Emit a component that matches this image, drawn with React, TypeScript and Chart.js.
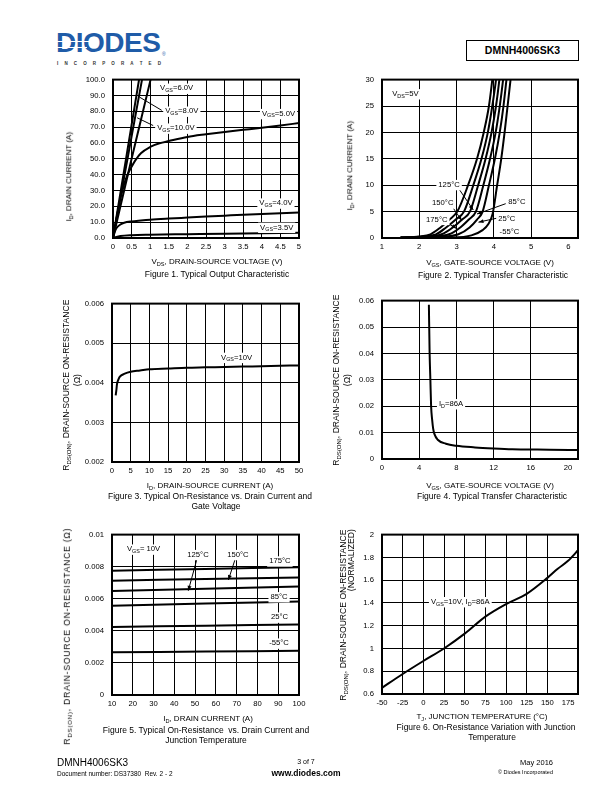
import React, { useEffect, useRef } from 'react';
import { Chart, registerables } from 'chart.js';

Chart.register(...registerables);

const FONT = '"Liberation Sans", Arial, Helvetica, sans-serif';
Chart.defaults.font.family = FONT;
Chart.defaults.color = '#000';

type Pt = [number, number];

// ---------------- Figure 1: Typical Output Characteristic ----------------
const F1_X_TICKS = [0, 0.5, 1, 1.5, 2, 2.5, 3, 3.5, 4, 4.5, 5];
const F1_Y_TICKS = [0, 10, 20, 30, 40, 50, 60, 70, 80, 90, 100];
const F1_VGS_10V: Pt[] = [[0, 0], [0.35, 50], [0.7, 100], [0.735, 105]];
const F1_VGS_8V: Pt[] = [[0, 0], [0.39, 50], [0.78, 100], [0.82, 105]];
const F1_VGS_6V: Pt[] = [[0, 0], [0.5, 50], [1.01, 100], [1.06, 105]];
const F1_VGS_5V: Pt[] = [[0, 0], [0.1, 13], [0.2, 25], [0.3, 34], [0.4, 40.5], [0.5, 45], [0.6, 49], [0.75, 53.5], [1.0, 57.5], [1.25, 59.8], [1.5, 61.2], [2, 63.8], [2.5, 65.5], [3, 67], [3.5, 68.3], [4, 69.6], [4.5, 71], [5, 72.6]];
const F1_VGS_4V: Pt[] = [[0, 0], [0.05, 4], [0.1, 6.5], [0.2, 8.5], [0.3, 9.6], [0.5, 10.5], [0.75, 11.1], [1, 11.6], [1.5, 12.3], [2, 12.9], [2.5, 13.5], [3, 14.1], [3.5, 14.7], [4, 15.2], [4.5, 15.7], [5, 16.1]];
const F1_VGS_3V5: Pt[] = [[0, 0], [0.2, 1.2], [0.5, 1.8], [1, 2.1], [2, 2.4], [3, 2.7], [4, 3.0], [5, 3.3]];

// ---------------- Figure 2: Typical Transfer Characteristic ----------------
const F2_X_TICKS = [1, 2, 3, 4, 5, 6];
const F2_Y_TICKS = [0, 5, 10, 15, 20, 25, 30];
const F2_T175: Pt[] = [[1.5, 0.1], [2.0, 0.3], [2.3, 0.7], [2.57, 2.0], [2.8, 3.4], [3.02, 5], [3.31, 10], [3.55, 15], [3.73, 20], [3.87, 25], [3.96, 30], [3.99, 32]];
const F2_T150: Pt[] = [[1.5, 0.1], [2.1, 0.3], [2.45, 0.7], [2.72, 2.0], [2.98, 3.5], [3.2, 5], [3.45, 10], [3.67, 15], [3.84, 20], [3.96, 25], [4.06, 30], [4.09, 32]];
const F2_T125: Pt[] = [[1.5, 0.1], [2.2, 0.3], [2.6, 0.7], [2.9, 2.0], [3.15, 3.5], [3.36, 5], [3.58, 10], [3.78, 15], [3.94, 20], [4.06, 25], [4.15, 30], [4.18, 32]];
const F2_T85: Pt[] = [[1.5, 0.05], [2.35, 0.25], [2.8, 0.7], [3.1, 2.0], [3.33, 3.5], [3.52, 5], [3.72, 10], [3.9, 15], [4.05, 20], [4.16, 25], [4.25, 30], [4.28, 32]];
const F2_T25: Pt[] = [[1.5, 0.03], [2.6, 0.2], [3.05, 0.7], [3.35, 2.0], [3.55, 3.5], [3.7, 5], [3.87, 10], [4.03, 15], [4.16, 20], [4.26, 25], [4.34, 30], [4.37, 32]];
const F2_TM55: Pt[] = [[1.5, 0.02], [2.9, 0.1], [3.4, 0.5], [3.7, 1.5], [3.85, 2.6], [3.97, 4.6], [4.09, 10], [4.2, 15], [4.29, 20], [4.37, 25], [4.45, 30], [4.48, 32]];

// ---------------- Figure 3: On-Resistance vs Drain Current ----------------
const F3_X_TICKS = [0, 5, 10, 15, 20, 25, 30, 35, 40, 45, 50];
const F3_Y_TICKS = [0.002, 0.003, 0.004, 0.005, 0.006];
const F3_VGS_10V: Pt[] = [[0.98, 0.00368], [1.15, 0.0038], [1.34, 0.00397], [1.7, 0.00408], [2.05, 0.00415], [3.4, 0.00423], [5, 0.00428], [7.5, 0.00431], [10, 0.00434], [15, 0.00436], [20, 0.00438], [25, 0.00439], [30, 0.0044], [35, 0.00441], [40, 0.00442], [45, 0.00443], [50, 0.00444]];

// ---------------- Figure 4: On-Resistance vs Gate-Source Voltage ----------------
const F4_X_TICKS = [0, 4, 8, 12, 16, 20];
const F4_Y_TICKS = [0, 0.01, 0.02, 0.03, 0.04, 0.05, 0.06];
const F4_ID_86A: Pt[] = [[5.04, 0.0584], [5.12, 0.04], [5.2, 0.03], [5.28, 0.02], [5.39, 0.0149], [5.5, 0.0115], [5.63, 0.0095], [5.99, 0.0073], [6.87, 0.0058], [8, 0.005], [10, 0.0044], [12, 0.004], [14, 0.0037], [16, 0.0036], [18, 0.0035], [21.2, 0.0034]];

// ---------------- Figure 5: On-Resistance vs Drain Current and Temperature ----------------
const F5_X_TICKS = [10, 20, 30, 40, 50, 60, 70, 80, 90, 100];
const F5_Y_TICKS = [0, 0.002, 0.004, 0.006, 0.008, 0.01];
const F5_T175: Pt[] = [[10, 0.00775], [55, 0.00786], [100, 0.00797]];
const F5_T150: Pt[] = [[10, 0.00713], [55, 0.00723], [100, 0.00733]];
const F5_T125: Pt[] = [[10, 0.00648], [55, 0.00662], [100, 0.00677]];
const F5_T85: Pt[] = [[10, 0.00556], [55, 0.0057], [100, 0.00583]];
const F5_T25: Pt[] = [[10, 0.00424], [55, 0.00432], [100, 0.0044]];
const F5_TM55: Pt[] = [[10, 0.00266], [55, 0.00271], [100, 0.00276]];

// ---------------- Figure 6: On-Resistance vs Junction Temperature ----------------
const F6_X_TICKS = [-50, -25, 0, 25, 50, 75, 100, 125, 150, 175];
const F6_Y_TICKS = [0.6, 0.8, 1, 1.2, 1.4, 1.6, 1.8, 2];
const F6_NORM: Pt[] = [[-50, 0.654], [-25, 0.776], [0, 0.89], [25, 1.0], [50, 1.13], [75, 1.28], [100, 1.39], [125, 1.48], [150, 1.62], [162.5, 1.7], [175, 1.77], [188, 1.87]];

// ---------------- drawing helpers ----------------
type Seg = { t: string; sub?: boolean };
function parseRich(s: string): Seg[] {
  const out: Seg[] = [];
  const re = /_\{([^}]*)\}/g;
  let last = 0;
  let m: RegExpExecArray | null;
  while ((m = re.exec(s))) {
    if (m.index > last) out.push({ t: s.slice(last, m.index) });
    out.push({ t: m[1], sub: true });
    last = re.lastIndex;
  }
  if (last < s.length) out.push({ t: s.slice(last) });
  return out;
}

type Label = { x: number; y: number; text: string };
type Arrow = { x1: number; y1: number; x2: number; y2: number; head?: boolean };

const LABEL_SIZE = 7.7;
const TICK_SIZE = 7.7;

function drawRich(ctx: CanvasRenderingContext2D, text: string, cx: number, cy: number, size: number) {
  const segs = parseRich(text);
  const fontFor = (s: Seg) => `${s.sub ? size * 0.7 : size}px ${FONT}`;
  const widths = segs.map((s) => { ctx.font = fontFor(s); return ctx.measureText(s.t).width; });
  const total = widths.reduce((a, b) => a + b, 0);
  let x = cx - total / 2;
  ctx.fillStyle = '#fff';
  ctx.fillRect(x - 2, cy - size * 0.62, total + 4, size * 1.35);
  ctx.fillStyle = '#000';
  ctx.textBaseline = 'middle';
  ctx.textAlign = 'left';
  segs.forEach((s, i) => {
    ctx.font = fontFor(s);
    ctx.fillText(s.t, x, cy + (s.sub ? size * 0.3 : 0));
    x += widths[i];
  });
}

function overlayPlugin(labels: Label[], arrows: Arrow[]) {
  return {
    id: 'overlay',
    afterDatasetsDraw(chart: any) {
      const { ctx, chartArea, scales } = chart;
      const xs = scales.x;
      const ys = scales.y;
      ctx.save();
      for (const a of arrows) {
        const x1 = xs.getPixelForValue(a.x1), y1 = ys.getPixelForValue(a.y1);
        const x2 = xs.getPixelForValue(a.x2), y2 = ys.getPixelForValue(a.y2);
        ctx.strokeStyle = '#000';
        ctx.lineWidth = 1;
        ctx.beginPath();
        ctx.moveTo(x1, y1);
        ctx.lineTo(x2, y2);
        ctx.stroke();
        if (a.head) {
          const ang = Math.atan2(y2 - y1, x2 - x1);
          const L = 5, W = 2;
          ctx.beginPath();
          ctx.moveTo(x2, y2);
          ctx.lineTo(x2 - L * Math.cos(ang) + W * Math.sin(ang), y2 - L * Math.sin(ang) - W * Math.cos(ang));
          ctx.lineTo(x2 - L * Math.cos(ang) - W * Math.sin(ang), y2 - L * Math.sin(ang) + W * Math.cos(ang));
          ctx.closePath();
          ctx.fillStyle = '#000';
          ctx.fill();
        }
      }
      for (const l of labels) {
        drawRich(ctx, l.text, xs.getPixelForValue(l.x), ys.getPixelForValue(l.y), LABEL_SIZE);
      }
      ctx.lineWidth = 2;
      ctx.strokeStyle = '#000';
      ctx.strokeRect(chartArea.left, chartArea.top, chartArea.right - chartArea.left, chartArea.bottom - chartArea.top);
      ctx.restore();
    },
  };
}

type PlotSpec = {
  area: { left: number; top: number; right: number; bottom: number };
  xMin: number; xMax: number; yMin: number; yMax: number;
  xTicks: number[]; yTicks: number[];
  xFmt: (v: number) => string; yFmt: (v: number) => string;
  hideX?: number[];
  series: Pt[][];
  labels: Label[];
  arrows: Arrow[];
};

const YW = 50, PT = 8, PR = 14, XH = 20;

function makeConfig(s: PlotSpec): any {
  const hide = (vals: number[]) => (c: any) => (c.tick && vals.includes(c.tick.value) ? 'rgba(0,0,0,0)' : '#000');
  return {
    type: 'scatter',
    data: {
      datasets: s.series.map((pts) => ({
        data: pts.map(([x, y]) => ({ x, y })),
        showLine: true,
        borderColor: '#000',
        backgroundColor: '#000',
        borderWidth: 2,
        pointRadius: 0,
        pointHoverRadius: 0,
        cubicInterpolationMode: 'monotone',
        fill: false,
      })),
    },
    options: {
      animation: false,
      responsive: false,
      maintainAspectRatio: false,
      devicePixelRatio: 1,
      events: [],
      layout: { padding: { top: PT, right: PR, left: 0, bottom: 0 } },
      plugins: { legend: { display: false }, tooltip: { enabled: false }, title: { display: false } },
      scales: {
        x: {
          type: 'linear', position: 'bottom', min: s.xMin, max: s.xMax,
          afterBuildTicks: (a: any) => { a.ticks = s.xTicks.map((v) => ({ value: v })); },
          afterFit: (a: any) => { a.height = XH; },
          grid: { color: hide(s.hideX || []), lineWidth: 1, drawTicks: false },
          border: { display: false },
          ticks: { autoSkip: false, maxRotation: 0, minRotation: 0, padding: 4, color: '#000', font: { size: TICK_SIZE, family: FONT }, callback: (v: any) => s.xFmt(Number(v)) },
        },
        y: {
          type: 'linear', position: 'left', min: s.yMin, max: s.yMax,
          afterBuildTicks: (a: any) => { a.ticks = s.yTicks.map((v) => ({ value: v })); },
          afterFit: (a: any) => { a.width = YW; },
          grid: { color: '#000', lineWidth: 1, drawTicks: false },
          border: { display: false },
          ticks: { autoSkip: false, padding: 8, color: '#000', font: { size: TICK_SIZE, family: FONT }, callback: (v: any) => s.yFmt(Number(v)) },
        },
      },
    },
    plugins: [overlayPlugin(s.labels, s.arrows)],
  };
}

function PlotCanvas({ spec }: { spec: PlotSpec }) {
  const ref = useRef<HTMLCanvasElement | null>(null);
  const left = spec.area.left - YW;
  const top = spec.area.top - PT;
  const width = spec.area.right - spec.area.left + YW + PR;
  const height = spec.area.bottom - spec.area.top + PT + XH;
  useEffect(() => {
    const c = ref.current;
    if (!c) return;
    const chart = new Chart(c, makeConfig(spec));
    return () => chart.destroy();
  }, [spec]);
  return <canvas ref={ref} width={width} height={height} style={{ position: 'absolute', left, top, width, height }} />;
}

function Rich({ text }: { text: string }) {
  return (
    <>
      {parseRich(text).map((s, i) =>
        s.sub ? (
          <span key={i} style={{ fontSize: '0.7em', position: 'relative', top: '0.3em' }}>{s.t}</span>
        ) : (
          <span key={i}>{s.t}</span>
        )
      )}
    </>
  );
}

function Txt({ x, y, text, size, bold, align = 'center', ls }: { x: number; y: number; text: string; size: number; bold?: boolean; align?: 'center' | 'left' | 'right'; ls?: number }) {
  const lh = size * 1.2;
  const W = 500;
  const left = align === 'center' ? x - W / 2 : align === 'left' ? x : x - W;
  return (
    <div style={{ position: 'absolute', left, top: y - lh / 2, width: W, height: lh, lineHeight: `${lh}px`, fontSize: size, fontWeight: bold ? 700 : 400, textAlign: align, whiteSpace: 'pre', letterSpacing: ls ? `${ls}px` : undefined }}>
      <Rich text={text} />
    </div>
  );
}

function VTxt({ x, y, text, size, ls }: { x: number; y: number; text: string; size: number; ls?: number }) {
  const lh = size * 1.2;
  const W = 300;
  return (
    <div style={{ position: 'absolute', left: x - W / 2, top: y - lh / 2, width: W, height: lh, lineHeight: `${lh}px`, fontSize: size, textAlign: 'center', whiteSpace: 'pre', transform: 'rotate(-90deg)', transformOrigin: '50% 50%', letterSpacing: ls ? `${ls}px` : undefined }}>
      <Rich text={text} />
    </div>
  );
}

const str = (v: number) => String(v);

const SPEC1: PlotSpec = {
  area: { left: 113, top: 75, right: 299, bottom: 238 },
  xMin: 0, xMax: 5, yMin: 0, yMax: 100,
  xTicks: F1_X_TICKS, yTicks: F1_Y_TICKS,
  xFmt: str, yFmt: (v) => v.toFixed(1),
  series: [F1_VGS_10V, F1_VGS_8V, F1_VGS_6V, F1_VGS_5V, F1_VGS_4V, F1_VGS_3V5],
  labels: [
    { x: 1.71, y: 94.5, text: 'V_{GS}=6.0V' },
    { x: 1.85, y: 80, text: 'V_{GS}=8.0V' },
    { x: 1.69, y: 69.3, text: 'V_{GS}=10.0V' },
    { x: 4.45, y: 78.5, text: 'V_{GS}=5.0V' },
    { x: 4.38, y: 22, text: 'V_{GS}=4.0V' },
    { x: 4.4, y: 6.7, text: 'V_{GS}=3.5V' },
  ],
  arrows: [
    { x1: 1.31, y1: 80.6, x2: 0.71, y2: 89 },
    { x1: 1.08, y1: 71, x2: 0.65, y2: 75.9 },
  ],
};

const SPEC2: PlotSpec = {
  area: { left: 382, top: 75, right: 578, bottom: 238 },
  xMin: 1, xMax: 6.26, yMin: 0, yMax: 30,
  xTicks: F2_X_TICKS, yTicks: F2_Y_TICKS, hideX: [6],
  xFmt: str, yFmt: str,
  series: [F2_T175, F2_T150, F2_T125, F2_T85, F2_T25, F2_TM55],
  labels: [
    { x: 1.63, y: 27.3, text: 'V_{DS}=5V' },
    { x: 2.8, y: 10.1, text: '125°C' },
    { x: 2.63, y: 6.6, text: '150°C' },
    { x: 2.47, y: 3.5, text: '175°C' },
    { x: 4.62, y: 6.8, text: '85°C' },
    { x: 4.35, y: 3.7, text: '25°C' },
    { x: 4.42, y: 1.1, text: '-55°C' },
  ],
  arrows: [
    { x1: 3.05, y1: 9.45, x2: 3.45, y2: 5.3, head: true },
    { x1: 2.87, y1: 6.1, x2: 3.14, y2: 3.3, head: true },
    { x1: 2.72, y1: 3.0, x2: 3.0, y2: 1.8, head: true },
    { x1: 4.32, y1: 6.5, x2: 3.55, y2: 4.55, head: true },
    { x1: 4.08, y1: 3.75, x2: 3.59, y2: 3.0, head: true },
  ],
};

const SPEC3: PlotSpec = {
  area: { left: 112, top: 299, right: 299, bottom: 462 },
  xMin: 0, xMax: 50, yMin: 0.002, yMax: 0.006,
  xTicks: F3_X_TICKS, yTicks: F3_Y_TICKS,
  xFmt: str, yFmt: (v) => v.toFixed(3),
  series: [F3_VGS_10V],
  labels: [{ x: 33.3, y: 0.00464, text: 'V_{GS}=10V' }],
  arrows: [],
};

const SPEC4: PlotSpec = {
  area: { left: 382, top: 296, right: 578, bottom: 459 },
  xMin: 0, xMax: 21.07, yMin: 0, yMax: 0.06,
  xTicks: F4_X_TICKS, yTicks: F4_Y_TICKS, hideX: [20],
  xFmt: str, yFmt: (v) => String(+v.toFixed(2)),
  series: [F4_ID_86A],
  labels: [{ x: 7.42, y: 0.0209, text: 'I_{D}=86A' }],
  arrows: [],
};

const SPEC5: PlotSpec = {
  area: { left: 112, top: 530, right: 299, bottom: 695 },
  xMin: 10, xMax: 100, yMin: 0, yMax: 0.01,
  xTicks: F5_X_TICKS, yTicks: F5_Y_TICKS,
  xFmt: str, yFmt: (v) => String(+v.toFixed(3)),
  series: [F5_T175, F5_T150, F5_T125, F5_T85, F5_T25, F5_TM55],
  labels: [
    { x: 25.2, y: 0.00909, text: 'V_{GS}= 10V' },
    { x: 51.4, y: 0.00875, text: '125°C' },
    { x: 70.6, y: 0.00875, text: '150°C' },
    { x: 90.8, y: 0.00835, text: '175°C' },
    { x: 90.4, y: 0.00612, text: '85°C' },
    { x: 90.6, y: 0.00485, text: '25°C' },
    { x: 90.4, y: 0.00323, text: '-55°C' },
  ],
  arrows: [
    { x1: 50.8, y1: 0.00844, x2: 46.7, y2: 0.0065, head: true },
    { x1: 69.2, y1: 0.00844, x2: 66, y2: 0.00717, head: true },
  ],
};

const SPEC6: PlotSpec = {
  area: { left: 382, top: 530, right: 578, bottom: 694 },
  xMin: -50, xMax: 187, yMin: 0.6, yMax: 2,
  xTicks: F6_X_TICKS, yTicks: F6_Y_TICKS, hideX: [175],
  xFmt: str, yFmt: (v) => String(+v.toFixed(1)),
  series: [F6_NORM],
  labels: [{ x: 44.7, y: 1.41, text: 'V_{GS}=10V, I_{D}=86A' }],
  arrows: [],
};

const INC = 'INCORPORATED'.split('');

export default function App() {
  return (
    <div style={{ position: 'absolute', left: 0, top: 0, width: 612, height: 792, background: '#fff', fontFamily: FONT, color: '#000', overflow: 'hidden' }}>
      {/* Header */}
      <div style={{ position: 'absolute', left: 56, top: 28, fontSize: 28, lineHeight: '30px', fontWeight: 700, color: '#1f5ca8', letterSpacing: '-0.5px' }}>DIODES</div>
      <div style={{ position: 'absolute', left: 57, top: 41, width: 34, height: 1, background: '#fff' }} />
      <div style={{ position: 'absolute', left: 57, top: 47, width: 30, height: 1, background: '#fff' }} />
      <div style={{ position: 'absolute', left: 162, top: 51, fontSize: 5, color: '#1f5ca8' }}>®</div>
      <div style={{ position: 'absolute', left: 57, top: 61, width: 104, height: 6, display: 'flex', justifyContent: 'space-between', fontSize: 4.5, lineHeight: '6px', fontWeight: 700, color: '#333' }}>
        {INC.map((c, i) => <span key={i}>{c}</span>)}
      </div>
      <div style={{ position: 'absolute', left: 466, top: 40, width: 111, height: 19, border: '1px solid #000', fontSize: 10.5, fontWeight: 700, lineHeight: '19px', textAlign: 'center' }}>DMNH4006SK3</div>

      {/* Charts */}
      <PlotCanvas spec={SPEC1} />
      <PlotCanvas spec={SPEC2} />
      <PlotCanvas spec={SPEC3} />
      <PlotCanvas spec={SPEC4} />
      <PlotCanvas spec={SPEC5} />
      <PlotCanvas spec={SPEC6} />

      {/* Figure 1 texts */}
      <VTxt x={69} y={177} size={8} text="I_{D}, DRAIN CURRENT (A)" />
      <Txt x={217} y={262} size={8} text="V_{DS}, DRAIN-SOURCE VOLTAGE (V)" />
      <Txt x={217} y={274} size={8.5} text="Figure 1. Typical Output Characteristic" />

      {/* Figure 2 texts */}
      <VTxt x={350} y={166} size={8} text="I_{D}, DRAIN CURRENT (A)" />
      <Txt x={490} y={263} size={8} text="V_{GS}, GATE-SOURCE VOLTAGE (V)" />
      <Txt x={493} y={275} size={8.5} text="Figure 2. Typical Transfer Characteristic" />

      {/* Figure 3 texts */}
      <VTxt x={66} y={385} size={8.6} text="R_{DS(ON)}, DRAIN-SOURCE ON-RESISTANCE" />
      <VTxt x={77} y={380} size={8.6} text="(Ω)" />
      <Txt x={210} y={486} size={8} text="I_{D}, DRAIN-SOURCE CURRENT (A)" />
      <Txt x={210} y={496} size={8.5} text="Figure 3. Typical On-Resistance vs. Drain Current and" />
      <Txt x={216} y={506} size={8.5} text="Gate Voltage" />

      {/* Figure 4 texts */}
      <VTxt x={336} y={380} size={8.6} text="R_{DS(ON)}, DRAIN-SOURCE ON-RESISTANCE" />
      <VTxt x={347} y={380} size={8.6} text="(Ω)" />
      <Txt x={490} y={486} size={8} text="V_{GS}, GATE-SOURCE VOLTAGE (V)" />
      <Txt x={492} y={496} size={8.5} text="Figure 4. Typical Transfer Characteristic" />

      {/* Figure 5 texts */}
      <VTxt x={67} y={636} size={8.6} ls={0.8} text="R_{DS(ON)}, DRAIN-SOURCE ON-RESISTANCE (Ω)" />
      <Txt x={208} y={719} size={8} text="I_{D}, DRAIN CURRENT (A)" />
      <Txt x={206} y={730} size={8.5} text="Figure 5. Typical On-Resistance  vs. Drain Current and" />
      <Txt x={206} y={740} size={8.5} text="Junction Temperature" />

      {/* Figure 6 texts */}
      <VTxt x={343} y={615} size={8.6} text="R_{DS(ON)}, DRAIN-SOURCE ON-RESISTANCE" />
      <VTxt x={351} y={560} size={8.6} text="(NORMALIZED)" />
      <Txt x={482} y={717} size={8} text="T_{J}, JUNCTION TEMPERATURE (°C)" />
      <Txt x={486} y={727} size={8.5} text="Figure 6. On-Resistance Variation with Junction" />
      <Txt x={492} y={737} size={8.5} text="Temperature" />

      {/* Footer */}
      <Txt x={57} y={763} size={10} align="left" text="DMNH4006SK3" />
      <Txt x={57} y={774} size={6.5} align="left" text="Document number: DS37380  Rev. 2 - 2" />
      <Txt x={306} y={762} size={7} text="3 of 7" />
      <Txt x={306} y={773} size={8.5} bold text="www.diodes.com" />
      <Txt x={553} y={762} size={7.5} align="right" text="May 2016" />
      <Txt x={553} y={772} size={5.5} align="right" text="© Diodes Incorporated" />
    </div>
  );
}
